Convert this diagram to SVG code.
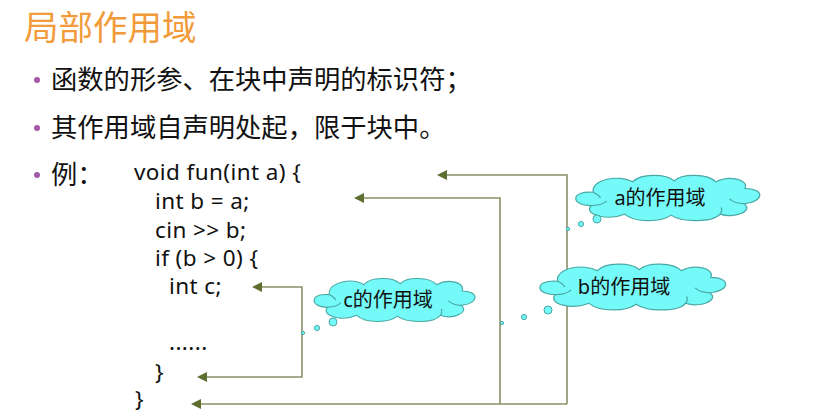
<svg xmlns="http://www.w3.org/2000/svg" xmlns:xlink="http://www.w3.org/1999/xlink" width="822" height="420" viewBox="0 0 822 420">
<style>
.title{font-family:"Noto Sans CJK SC",sans-serif;font-size:34.5px;fill:#F29B3A}
.bul{font-family:"Noto Sans CJK SC",sans-serif;font-size:26.3px;fill:#111}
.dot{fill:#A25AA6}
.code{font-family:"Noto Sans","Noto Sans CJK SC",sans-serif;font-size:22.5px;letter-spacing:0.4px;fill:#111}
.lbl{font-family:"Noto Sans","Noto Sans CJK SC",sans-serif;font-size:20px;fill:#111;text-anchor:middle}
.conn{fill:none;stroke:#8A8F68;stroke-width:1.6}
.cl{fill:#74FAF8;stroke:#4AA9A5;stroke-width:1.2}
.curl{fill:none;stroke:#4AA9A5;stroke-width:1.2}
.bub{fill:#74FAF8;stroke:#4AA9A5;stroke-width:1}
</style>
<defs>
<marker id="ah" viewBox="0 0 10 10" refX="2" refY="5" markerWidth="10" markerHeight="10" markerUnits="userSpaceOnUse" orient="auto">
<path d="M0,0 L10,5 L0,10 z" fill="#5E6E2E"/>
</marker>
<g id="cloud">
<path class="cl" d="M -70,-6 C -92,-8 -92,8 -72,8 C -80,18 -55,24 -40,17 C -30,26 -5,26 5,18 C 15,26 45,26 52,17 C 65,22 85,14 75,6 C 95,4 95,-10 76,-10 C 80,-20 60,-24 48,-17 C 40,-26 15,-26 8,-18 C 0,-26 -25,-26 -32,-17 C -45,-25 -72,-20 -70,-6 z"/>
<path class="curl" d="M -72,8 C -66,8 -60,6 -57,3 M -70,-6 C -66,-4 -64,-2 -63,0 M 75,6 C 70,6 64,4 61,1 M 52,17 C 54,14 54,12 53,10"/>
</g>
</defs>
<rect width="822" height="420" fill="#fff"/>
<text class="title" x="24" y="40">局部作用域</text>
<g id="bullets">
<circle class="dot" cx="37" cy="80" r="3"/>
<text class="bul" x="51" y="89">函数的形参、在块中声明的标识符；</text>
<circle class="dot" cx="37" cy="128" r="3"/>
<text class="bul" x="51" y="137">其作用域自声明处起，限于块中。</text>
<circle class="dot" cx="37" cy="175" r="3"/>
<text class="bul" x="51" y="184">例：</text>
</g>
<g id="code">
<text class="code" x="134" y="180">void fun(int a) {</text>
<text class="code" x="155" y="209">int b = a;</text>
<text class="code" x="155" y="238">cin &gt;&gt; b;</text>
<text class="code" x="155" y="266">if (b &gt; 0) {</text>
<text class="code" x="169" y="294">int c;</text>
<text class="code" x="169" y="350">......</text>
<text class="code" x="155" y="380">}</text>
<text class="code" x="135" y="407">}</text>
</g>
<g id="connectors">
<path class="conn" d="M567,404 V175 H445" marker-end="url(#ah)"/>
<path class="conn" d="M567,404 H199" marker-end="url(#ah)"/>
<path class="conn" d="M500,404 V198 H362" marker-end="url(#ah)"/>
<path class="conn" d="M302,332 V287 H260" marker-end="url(#ah)"/>
<path class="conn" d="M302,332 V377 H205" marker-end="url(#ah)"/>
</g>
<g id="cloud-a">
<use xlink:href="#cloud" transform="translate(666,198) scale(1.04,0.95)"/>
<circle class="bub" cx="568" cy="229" r="1.6"/>
<circle class="bub" cx="581" cy="224" r="2.6"/>
<circle class="bub" cx="597" cy="219" r="4"/>
<text class="lbl" x="660" y="205">a的作用域</text>
</g>
<g id="cloud-b">
<use xlink:href="#cloud" transform="translate(631,287) scale(1.05,0.96)"/>
<circle class="bub" cx="502" cy="323" r="1.6"/>
<circle class="bub" cx="524" cy="317" r="2.6"/>
<circle class="bub" cx="548" cy="310" r="4"/>
<text class="lbl" x="624" y="294">b的作用域</text>
</g>
<g id="cloud-c">
<use xlink:href="#cloud" transform="translate(393,300) scale(0.91,0.9)"/>
<circle class="bub" cx="303" cy="333" r="1.6"/>
<circle class="bub" cx="317" cy="328" r="2.6"/>
<circle class="bub" cx="333" cy="322" r="4"/>
<text class="lbl" x="388" y="307">c的作用域</text>
</g>
</svg>
